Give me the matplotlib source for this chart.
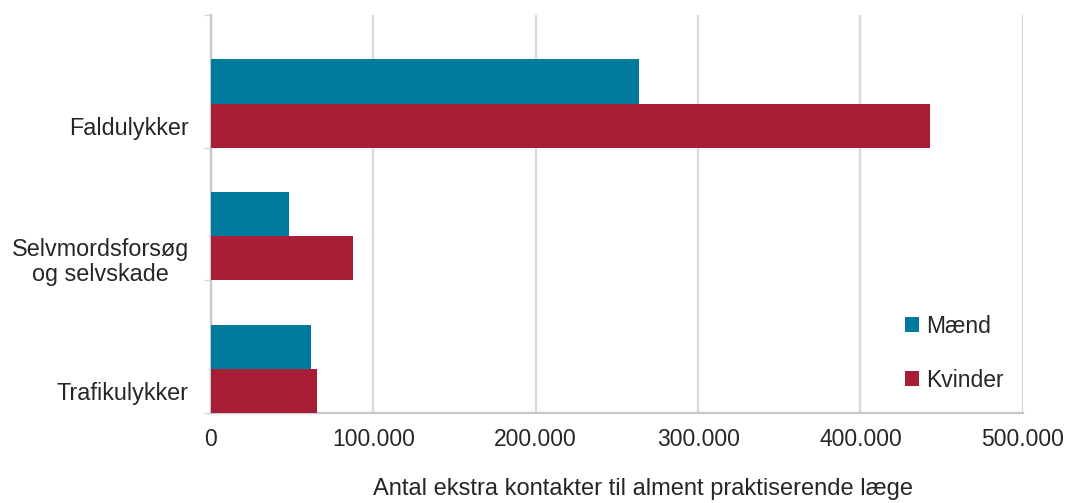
import matplotlib
matplotlib.use("Agg")
import matplotlib.pyplot as plt
import numpy as np

plt.rcParams['font.family'] = ['Liberation Sans', 'DejaVu Sans']

# data (bottom to top)
categories = ["Trafikulykker", "Selvmordsforsøg\nog selvskade", "Faldulykker"]
maend = [61500, 48000, 263500]
kvinder = [65300, 87400, 442700]
series_names = ["Mænd", "Kvinder"]
xticks = [0, 100000, 200000, 300000, 400000, 500000]
xtick_labels = ["0", "100.000", "200.000", "300.000", "400.000", "500.000"]
xlabel = "Antal ekstra kontakter til alment praktiserende læge"

teal = "#007B9E"
red = "#A71E36"
grid_c = "#D9D9D9"
txt = "#262626"

fig = plt.figure(figsize=(10.71, 5.03), dpi=100)
ax = fig.add_axes([0.197, 0.179, 0.758, 0.791])

y = np.arange(len(categories))
h = 1 / 3
# bars sit in the lower two thirds of each category band
ax.barh(y - 0.5 + h * 1.5, maend, height=h, color=teal, label=series_names[0], zorder=3)
ax.barh(y - 0.5 + h * 0.5, kvinder, height=h, color=red, label=series_names[1], zorder=3)

ax.set_xlim(0, 500000)
ax.set_ylim(-0.5, len(categories) - 0.5)

ax.set_xticks(xticks)
ax.set_xticklabels(xtick_labels, fontsize=16.5, color=txt)
ax.tick_params(axis='x', length=0, pad=11)
ax.xaxis.grid(True, color=grid_c, linewidth=1.6, zorder=0)
ax.set_axisbelow(True)

# category boundaries as small ticks, labels as minor ticks
ax.set_yticks(np.arange(len(categories) + 1) - 0.5)
ax.set_yticklabels([])
ax.tick_params(axis='y', which='major', length=5, color=grid_c, width=1)
ax.set_yticks(y - 0.5 + h * 0.5, minor=True)
ax.set_yticklabels(categories, minor=True, fontsize=16.8, color=txt, ma='center',
                   linespacing=1.15)
ax.tick_params(axis='y', which='minor', length=0, pad=16)

for s in ['top', 'right']:
    ax.spines[s].set_visible(False)
for s in ['left', 'bottom']:
    ax.spines[s].set_color("#C8C8C8")
    ax.spines[s].set_linewidth(1.6)

ax.set_xlabel(xlabel, fontsize=17, color=txt, labelpad=19, x=0.532)

leg = ax.legend(loc='center left', bbox_to_anchor=(0.83, 0.15), frameon=False,
                fontsize=16.5, handlelength=0.6, handleheight=0.6,
                handletextpad=0.3, labelspacing=1.35)
for t in leg.get_texts():
    t.set_color(txt)

fig.savefig("out.png", dpi=100)
